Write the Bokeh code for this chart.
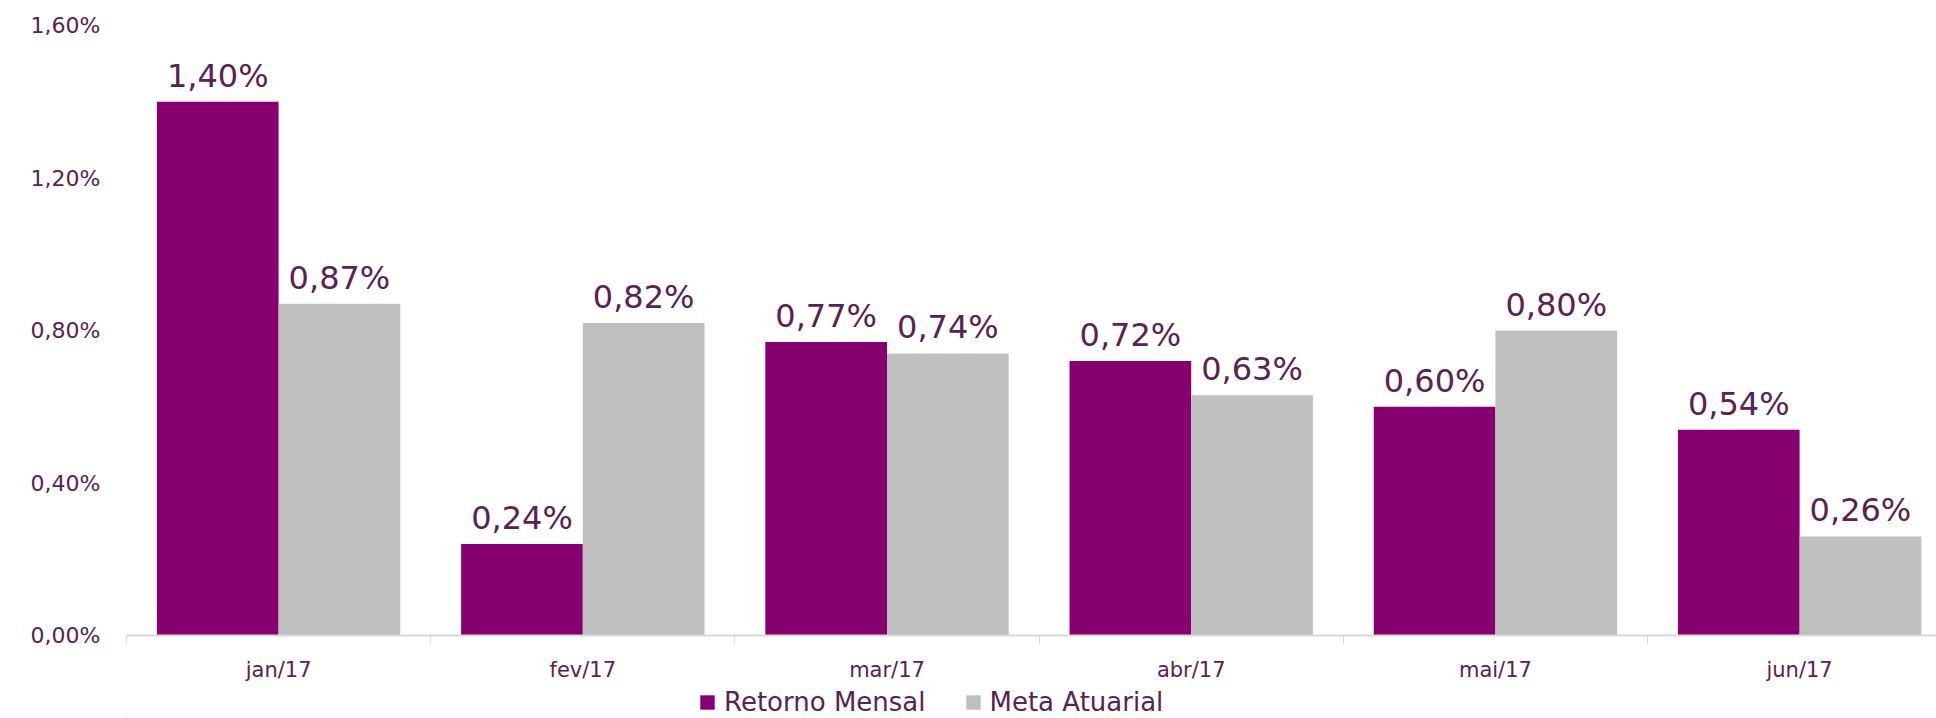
from bokeh.plotting import figure
from bokeh.layouts import column
from bokeh.models import Range1d, FixedTicker, ColumnDataSource, Legend, LegendItem
from bokeh.core.properties import value
from bokeh.embed import file_html
from bokeh.resources import INLINE

months = ["jan/17", "fev/17", "mar/17", "abr/17", "mai/17", "jun/17"]
retorno = [1.40, 0.24, 0.77, 0.72, 0.60, 0.54]
meta = [0.87, 0.82, 0.74, 0.63, 0.80, 0.26]
y_ticks = [0.0, 0.4, 0.8, 1.2, 1.6]
series_names = ["Retorno Mensal", "Meta Atuarial"]

PURPLE = "#870070"
GRAY = "#BFBFBF"
TEXT = "#5A2252"
FONT = "DejaVu Sans"

def fmt(v):
    return ("%.2f" % v).replace(".", ",") + "%"

p = figure(width=1936, height=684, output_backend="svg", toolbar_location=None,
           x_range=Range1d(0, 5.95), y_range=Range1d(0, 1.6),
           min_border_left=126, min_border_right=0, min_border_top=25, min_border_bottom=48)
p.outline_line_color = None
p.grid.visible = False

xs = [i + 0.5 for i in range(len(months))]
src_r = ColumnDataSource(dict(x=[x - 0.2 for x in xs], y=retorno, lab=[fmt(v) for v in retorno]))
src_m = ColumnDataSource(dict(x=[x + 0.2 for x in xs], y=meta, lab=[fmt(v) for v in meta]))

p.vbar(x="x", top="y", width=0.4, source=src_r, fill_color=PURPLE, line_color=None)
p.vbar(x="x", top="y", width=0.4, source=src_m, fill_color=GRAY, line_color=None)

for s in (src_r, src_m):
    p.text(x="x", y="y", text="lab", source=s, text_align="center", text_baseline="bottom",
           y_offset=-7, text_font=value(FONT), text_font_size="32px", text_color=TEXT)

xa = p.xaxis[0]
xa.ticker = FixedTicker(ticks=xs, minor_ticks=[0, 1, 2, 3, 4, 5, 6])
xa.major_label_overrides = {x: m for x, m in zip(xs, months)}
xa.major_tick_out = 0
xa.major_tick_in = 0
xa.minor_tick_out = 8
xa.minor_tick_in = 0
xa.minor_tick_line_color = "#D9D9D9"
xa.axis_line_color = "#D9D9D9"
xa.axis_line_width = 2
xa.major_label_standoff = 14
xa.major_label_text_font = FONT
xa.major_label_text_font_size = "21px"
xa.major_label_text_color = TEXT

ya = p.yaxis[0]
ya.ticker = FixedTicker(ticks=y_ticks)
ya.major_label_overrides = {t: fmt(t) for t in y_ticks}
ya.major_tick_out = 0
ya.major_tick_in = 0
ya.minor_tick_out = 0
ya.minor_tick_in = 0
ya.axis_line_color = None
ya.major_label_standoff = 26
ya.major_label_text_font = FONT
ya.major_label_text_font_size = "22px"
ya.major_label_text_color = TEXT

# legend strip below the chart
lf = figure(width=1936, height=34, output_backend="svg", toolbar_location=None,
            x_range=Range1d(0, 1936), y_range=Range1d(0, 34),
            x_axis_type=None, y_axis_type=None,
            min_border_left=0, min_border_right=0, min_border_top=0, min_border_bottom=0)
lf.outline_line_color = None
lf.grid.visible = False
d1 = lf.vbar(x=[-1000], top=[1], width=1, fill_color=PURPLE, line_color=None)
d2 = lf.vbar(x=[-1000], top=[1], width=1, fill_color=GRAY, line_color=None)
legend = Legend(items=[LegendItem(label=series_names[0], renderers=[d1]),
                       LegendItem(label=series_names[1], renderers=[d2])],
                orientation="horizontal", location=(572, 1),
                glyph_width=18, glyph_height=18, label_standoff=8, spacing=38,
                padding=0, margin=0, border_line_color=None, background_fill_alpha=0,
                label_text_font=FONT, label_text_font_size="26px", label_text_color=TEXT)
lf.add_layout(legend, "center")

layout = column(p, lf, spacing=0)
open("out.html", "w").write(file_html(layout, INLINE))
